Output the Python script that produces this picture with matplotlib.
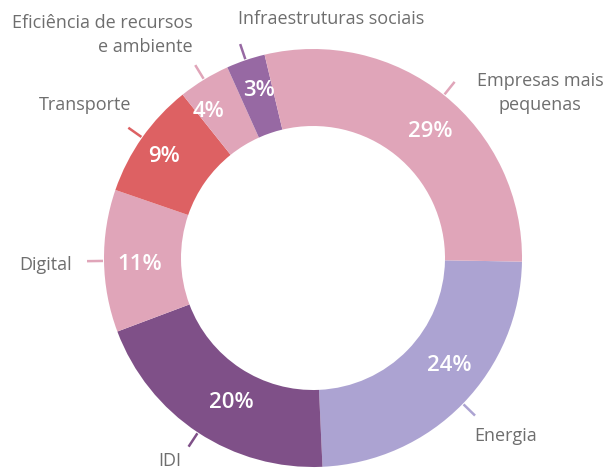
import numpy as np
import matplotlib
matplotlib.use("Agg")
import matplotlib.pyplot as plt

categories = ["Energia", "IDI", "Digital", "Transporte",
              "Eficiência de recursos\ne ambiente", "Infraestruturas sociais",
              "Empresas mais\npequenas"]
values = [24, 20, 11, 9, 4, 3, 29]
pct_labels = ["24%", "20%", "11%", "9%", "4%", "3%", "29%"]
colors = ["#ACA3D2", "#7F5088", "#E0A5B9", "#DD6163", "#E0A5B9", "#9769A3", "#E0A5B9"]

W, H = 606, 469
CX, CY = 313, 258
R_OUT, R_IN = 209, 132

# label layout: (x, y in image px, ha)
label_pos = [(474, 436, "left"), (170, 461, "center"), (72, 265, "right"),
             (131, 105, "right"), (193, 35, "right"), (331, 19, "center"),
             (540, 93, "center")]
# angular nudges (deg, CCW) and radii of the percentage labels, layout only
pct_nudge = [6, 4, 1.5, 1, 4, -1, -4]
pct_r = [174, 166, 173, 180, 180, 176, 173]

fig = plt.figure(figsize=(W / 100, H / 100), dpi=100)
ax = fig.add_axes([0, 0, 1, 1])
wedges, _ = ax.pie(values, colors=colors, startangle=-1, counterclock=False,
                   center=(CX, H - CY), radius=R_OUT,
                   wedgeprops=dict(width=R_OUT - R_IN, linewidth=0))
ax.set_xlim(0, W)
ax.set_ylim(0, H)
ax.set_aspect("equal")
ax.axis("off")

label_font = ["Open Sans", "DejaVu Sans"]
for w, c, p, lab, (lx, ly, ha), nd, rm in zip(wedges, colors, pct_labels, categories,
                                              label_pos, pct_nudge, pct_r):
    th = np.deg2rad((w.theta1 + w.theta2) / 2)
    ux, uy = np.cos(th), np.sin(th)
    ax.plot([CX + 210 * ux, CX + 226 * ux], [H - CY + 210 * uy, H - CY + 226 * uy],
            color=c, lw=1.8, solid_capstyle="butt")
    thp = th + np.deg2rad(nd)
    ax.text(CX + rm * np.cos(thp), H - CY + rm * np.sin(thp), p, ha="center",
            va="center", color="white", fontsize=16, fontweight="semibold",
            family=label_font)
    ax.text(lx, H - ly, lab, ha=ha, va="center", color="#6E6E6E",
            fontsize=13, family=label_font, linespacing=1.4,
            multialignment=ha if ha != "center" else "center")

fig.savefig("out.png", dpi=100)
